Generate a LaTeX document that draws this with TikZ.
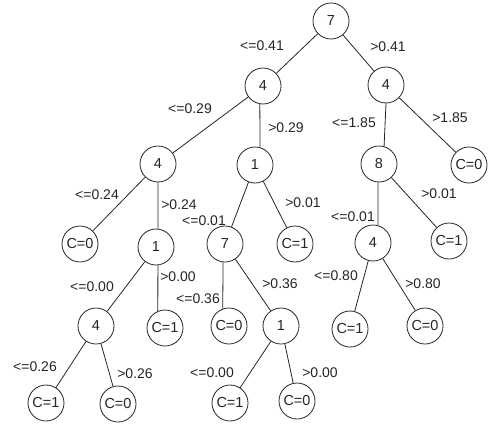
\documentclass[tikz,border=0pt]{standalone}
\usepackage{fontspec}
\setmainfont{Liberation Sans}
\begin{document}
\begin{tikzpicture}[x=1pt,y=-1pt,
  tn/.style={circle,draw=black!85,line width=0.8pt,minimum size=36pt,inner sep=0pt,font=\fontsize{14.5}{17}\selectfont,text=black!85},
  edge/.style={draw=black!85,line width=0.8pt},
  lb/.style={inner sep=0pt,font=\fontsize{14}{16}\selectfont,text=black!85}]
\useasboundingbox[fill=white] (0,0) rectangle (494,428);
\node[tn] (r) at (331,21) {7};
\node[tn] (a) at (263,86) {4};
\node[tn] (b) at (386,85) {4};
\node[tn] (c) at (158,164) {4};
\node[tn] (d) at (255,165) {1};
\node[tn] (e) at (379,164) {8};
\node[tn] (f) at (469,165) {C=0};
\node[tn] (g) at (80,244) {C=0};
\node[tn] (h) at (156,247) {1};
\node[tn] (i) at (225,244) {7};
\node[tn] (j) at (295,244) {C=1};
\node[tn] (k) at (373,243) {4};
\node[tn] (l) at (449,241) {C=1};
\node[tn] (m) at (96,326) {4};
\node[tn] (n) at (165,328) {C=1};
\node[tn] (o) at (229,326) {C=0};
\node[tn] (p) at (281,326) {1};
\node[tn] (q) at (350,329) {C=1};
\node[tn] (s) at (425,326) {C=0};
\node[tn] (t) at (46,403) {C=1};
\node[tn] (u) at (118,404) {C=0};
\node[tn] (v) at (230,403) {C=1};
\node[tn] (w) at (297,401) {C=0};
\foreach \x/\y in {r/a,r/b,a/c,b/f,c/g,d/i,d/j,e/l,h/m,i/p,k/q,k/s,m/t,m/u,p/v,p/w}
  \draw[edge] (\x) -- (\y);
\draw[edge] (a.-100) -- (d.74);
\draw[edge] (b.-90) -- (e.74);
\draw[edge] (c.-90) -- (h.84);
\draw[edge] (e.-93) -- (k.74);
\draw[edge] (h.-84) -- (n.113);
\draw[edge] (i.-96) -- (o.110);
\node[lb] (l1) at (262,46) {<=0.41};
\node[lb] (l2) at (388,47) {>0.41};
\node[lb] (l3) at (190,109) {<=0.29};
\node[lb] (l4) at (286,128) {>0.29};
\node[lb] (l5) at (354,123) {<=1.85};
\node[lb] (l6) at (450,118) {>1.85};
\node[lb] (l7) at (97,195) {<=0.24};
\node[lb] (l8) at (179,205) {>0.24};
\node[lb] (l9) at (204,221) {<=0.01};
\node[lb] (l10) at (303,203) {>0.01};
\node[lb] (l11) at (439,194) {>0.01};
\node[lb] (l12) at (353,217) {<=0.01};
\node[lb] (l13) at (92,287) {<=0.00};
\node[lb] (l14) at (178,277) {>0.00};
\node[lb] (l15) at (198,299) {<=0.36};
\node[lb] (l16) at (280,284) {>0.36};
\node[lb] (l17) at (336,276) {<=0.80};
\node[lb] (l18) at (423,284) {>0.80};
\node[lb] (l19) at (35,367) {<=0.26};
\node[lb] (l20) at (135,374) {>0.26};
\node[lb] (l21) at (212,373) {<=0.00};
\node[lb] (l22) at (320,373) {>0.00};
\end{tikzpicture}
\end{document}
